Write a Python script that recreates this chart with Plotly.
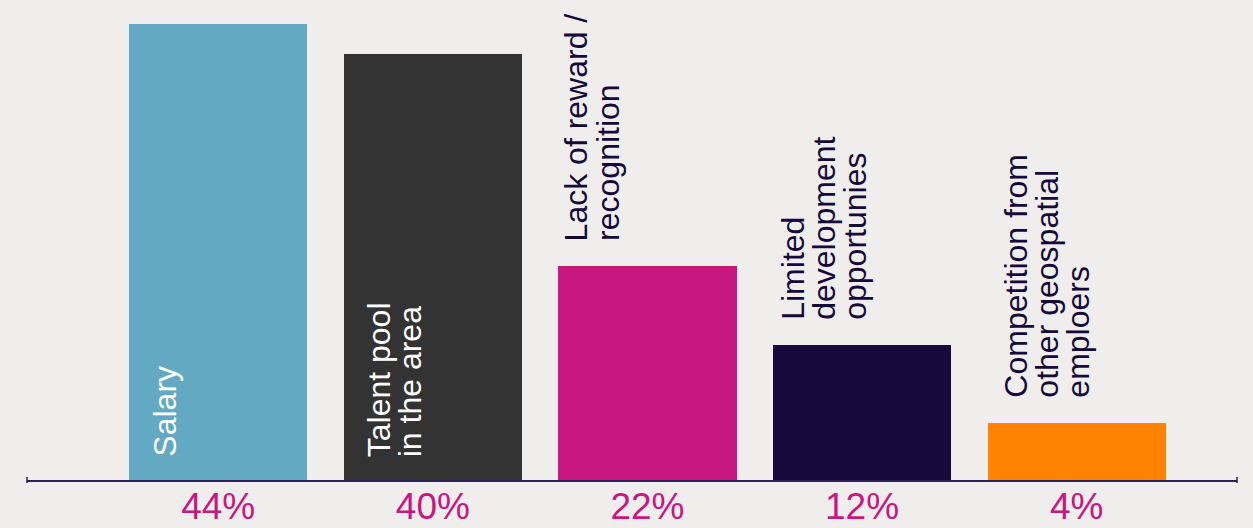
import plotly.graph_objects as go

# ---- data ----
categories = ["Salary", "Talent pool in the area", "Lack of reward / recognition",
              "Limited development opportunies", "Competition from other geospatial emploers"]
label_lines = [["Salary"],
               ["Talent pool", "in the area"],
               ["Lack of reward /", "recognition"],
               ["Limited", "development", "opportunies"],
               ["Competition from", "other geospatial", "emploers"]]
share_labels = ["44%", "40%", "22%", "12%", "4%"]
bar_heights = [44, 41.1, 20.65, 13.0, 5.5]   # heights as drawn in the picture

# ---- styles ----
bar_colors = ["#64A9C3", "#333333", "#C8177F", "#150A3A", "#FF8200"]
label_inside = [True, True, False, False, False]
label_dx = [23, 23, 6, 8, 16]          # px from bar's left edge to first line
BG = "#EFEEEC"
NAVY = "#150A3A"
FONT = "Arial, Liberation Sans, sans-serif"
LABEL_SIZE = 32
LINE_STEP = 31
BAR_W = 0.83

x_idx = list(range(len(categories)))

fig = go.Figure(go.Bar(
    x=x_idx, y=bar_heights, width=BAR_W,
    marker=dict(color=bar_colors, line=dict(width=0)),
    hoverinfo="skip",
))

px_per_unit = 214.6
half_bar_px = BAR_W * px_per_unit / 2
annotations = []
for i, lines in enumerate(label_lines):
    inside = label_inside[i]
    for j, line in enumerate(lines):
        annotations.append(dict(
            x=x_idx[i], y=0 if inside else bar_heights[i],
            xref="x", yref="y",
            text=line, showarrow=False, textangle=-90,
            xanchor="left", yanchor="bottom",
            xshift=-half_bar_px + label_dx[i] + j * LINE_STEP - 6,
            yshift=23 if inside else 25,
            borderpad=0, borderwidth=0,
            font=dict(family=FONT, size=LABEL_SIZE, color="white" if inside else NAVY),
        ))

axis_color = "#2A2352"
shapes = []
for xp in (0, 1):
    shapes.append(dict(type="line", xref="paper", yref="paper",
                       x0=xp, x1=xp, y0=-3, y1=3, ysizemode="pixel", yanchor=0,
                       line=dict(color=axis_color, width=1.5)))

fig.update_layout(
    width=1253, height=528,
    margin=dict(l=27, r=16, t=0, b=48),
    paper_bgcolor=BG, plot_bgcolor=BG,
    showlegend=False,
    annotations=annotations,
    shapes=shapes,
    bargap=0,
    xaxis=dict(
        tickmode="array", tickvals=x_idx, ticktext=share_labels,
        tickfont=dict(family=FONT, size=37, color="#C8177F"),
        ticklabelstandoff=-7,
        automargin=False,
        range=[-0.891, 4.747],
        showline=True, linecolor=axis_color, linewidth=1.5,
        showgrid=False, zeroline=False, ticks="",
        fixedrange=True,
    ),
    yaxis=dict(range=[0, 46.32], visible=False, fixedrange=True, automargin=False),
)

fig.write_html("out.html", config={"displayModeBar": False})
